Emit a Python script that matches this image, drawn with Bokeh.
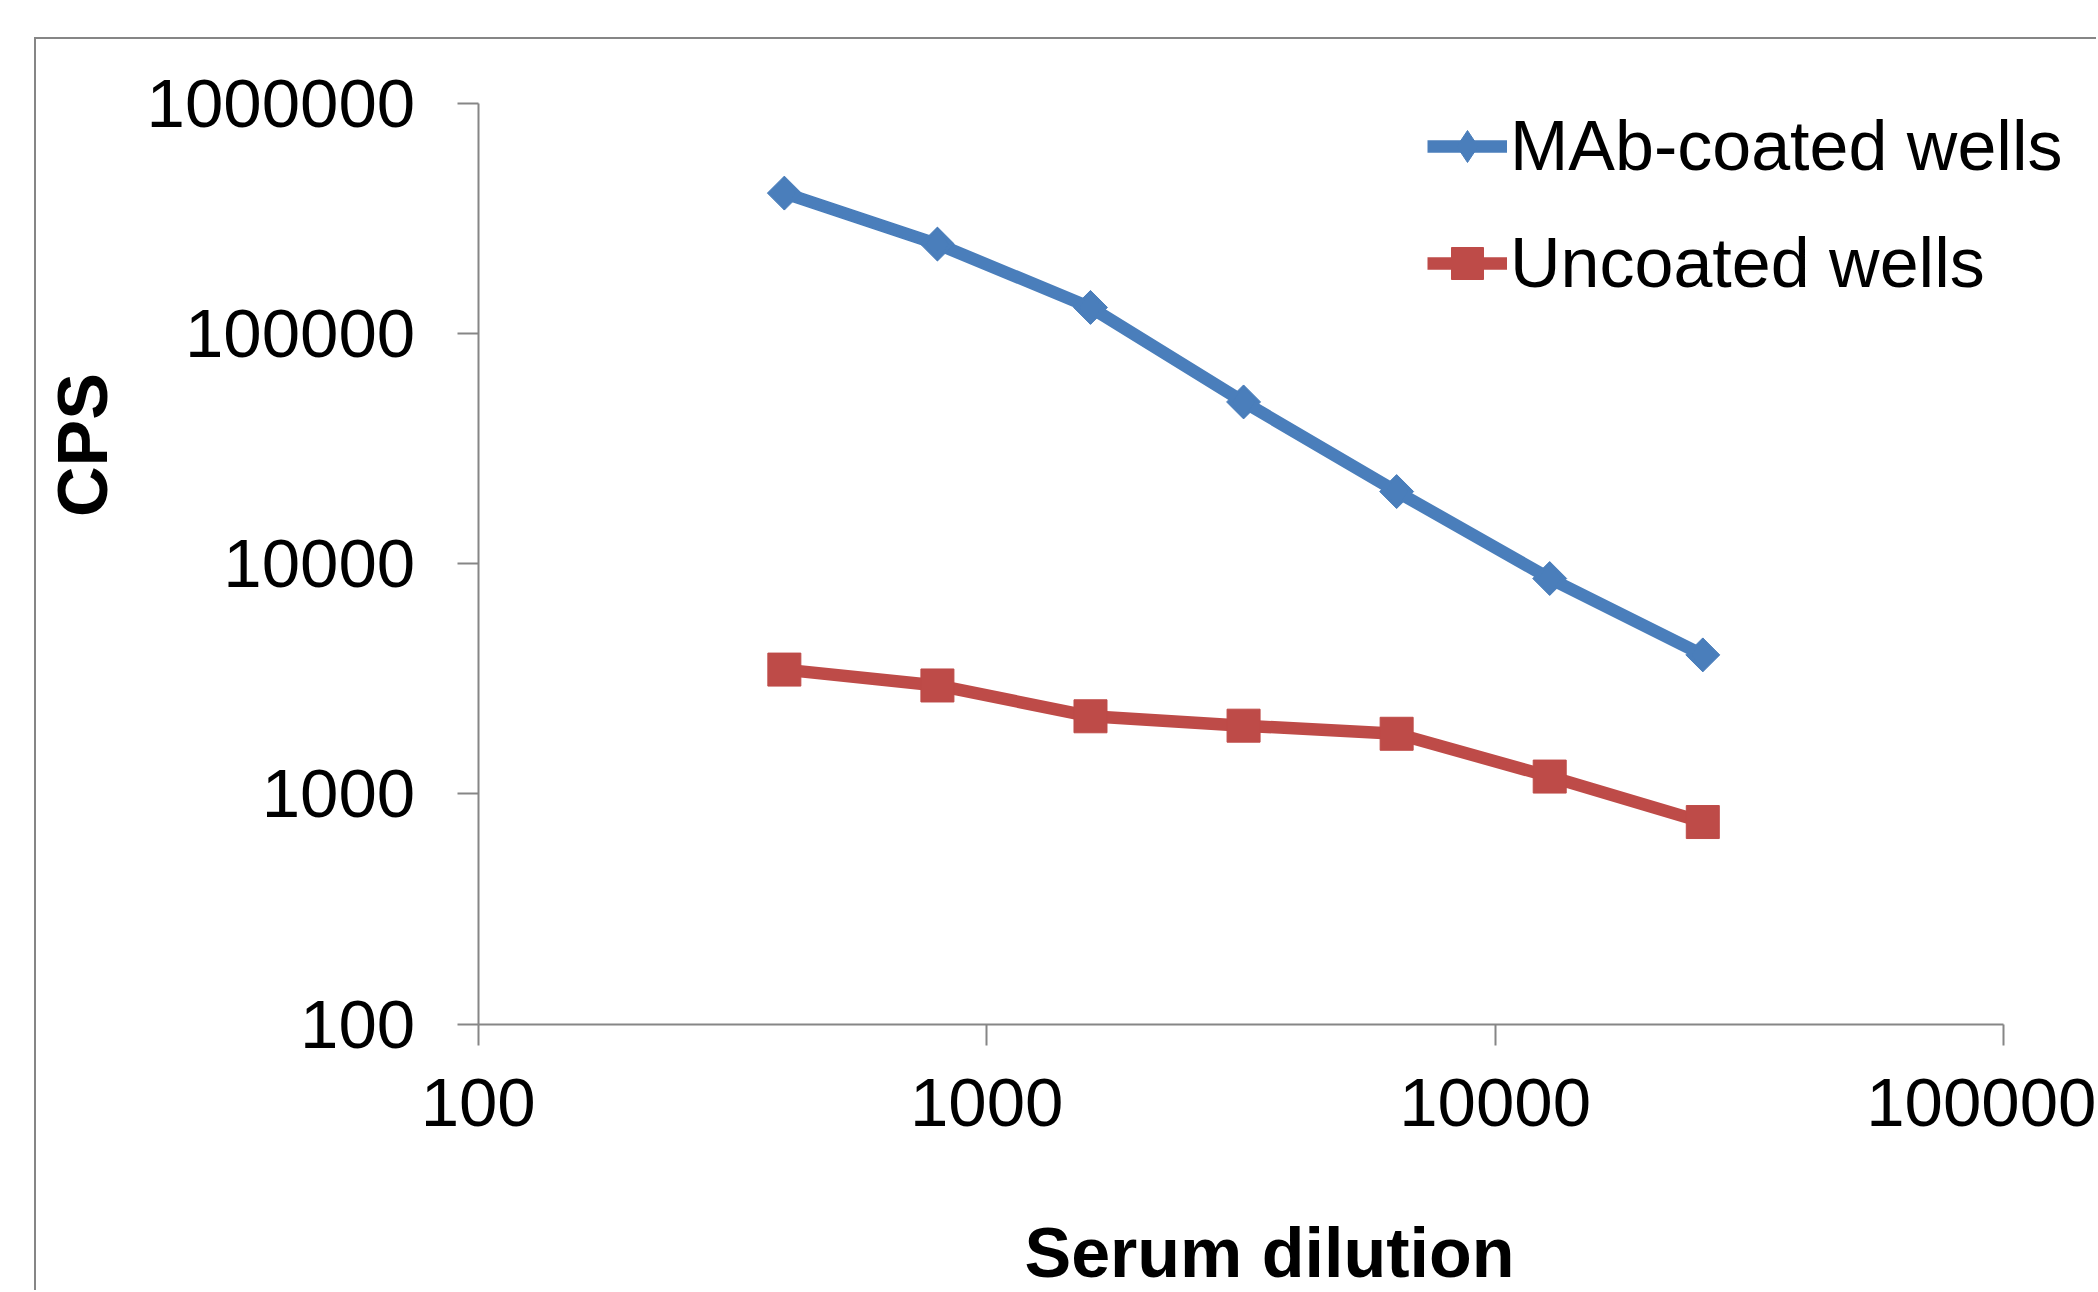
import numpy as np
from bokeh.plotting import figure
from bokeh.models import FixedTicker, Legend, LegendItem, Label
from bokeh.embed import file_html
from bokeh.resources import INLINE

# ---- data ----
dilution = [400, 800, 1600, 3200, 6400, 12800, 25600]
mab_cps = [408000, 245000, 130000, 50500, 20600, 8630, 4020]
uncoated_cps = [3470, 2960, 2175, 1980, 1826, 1190, 755]
series_names = ["MAb-coated wells", "Uncoated wells"]
x_ticks = [100, 1000, 10000, 100000]
x_tick_labels = ["100", "1000", "10000", "100000"]
y_ticks = [100, 1000, 10000, 100000, 1000000]
y_tick_labels = ["100", "1000", "10000", "100000", "1000000"]
x_title = "Serum dilution"
y_title = "CPS"

# ---- style / layout ----
FONT = "Liberation Sans"
BLUE = "#4A7EBB"
RED = "#BE4B48"
AXIS = "#868686"

W, H = 2062, 1253                       # canvas (page offset 36, 39 after css border)
AXIS_X, AXIS_Y = 441.7, 984.6           # canvas position of the axes
PX_DEC_X, PX_DEC_Y = 508.5, 230.15      # pixels per decade
lx0, ly0 = np.log10(x_ticks[0]), np.log10(y_ticks[0])
x_rng = (10 ** (lx0 - AXIS_X / PX_DEC_X), 10 ** (lx0 + (W - AXIS_X) / PX_DEC_X))
y_rng = (10 ** (ly0 - (H - AXIS_Y) / PX_DEC_Y), 10 ** (ly0 + AXIS_Y / PX_DEC_Y))

p = figure(width=W, height=H, x_axis_type="log", y_axis_type="log",
           x_range=x_rng, y_range=y_rng,
           output_backend="svg", toolbar_location=None,
           min_border_left=0, min_border_right=0,
           min_border_top=0, min_border_bottom=0)
p.styles = {"margin-left": "34px", "margin-top": "37px",
            "border-left": f"2px solid {AXIS}", "border-top": f"2px solid {AXIS}"}
p.outline_line_color = None
p.grid.visible = False
p.background_fill_color = "white"
p.border_fill_color = "white"

for ax, ticks, labels in ((p.xaxis[0], x_ticks, x_tick_labels), (p.yaxis[0], y_ticks, y_tick_labels)):
    ax.ticker = FixedTicker(ticks=ticks, minor_ticks=[])
    ax.bounds = (ticks[0], ticks[-1])
    ax.major_label_overrides = {t: l for t, l in zip(ticks, labels)}
    ax.axis_line_color = AXIS
    ax.axis_line_width = 2
    ax.major_tick_line_color = AXIS
    ax.major_tick_line_width = 2
    ax.major_tick_in = 0
    ax.major_tick_out = 21
    ax.minor_tick_line_color = None
    ax.major_label_text_font = FONT
    ax.major_label_text_font_size = "69px"
    ax.major_label_text_color = "black"
p.xaxis.fixed_location = y_ticks[0]
p.yaxis.fixed_location = x_ticks[0]
p.xaxis.major_label_standoff = 34
p.yaxis.major_label_standoff = 42

l1 = p.line(dilution, mab_cps, line_color=BLUE, line_width=12.5, line_cap="butt", line_join="round")
s1 = p.scatter(dilution, mab_cps, marker="square", angle=np.pi / 4, size=24,
               fill_color=BLUE, line_color=BLUE)
d1 = p.scatter(dilution, mab_cps, marker="diamond", size=33,
               fill_color=BLUE, line_color=BLUE)
l2 = p.line(dilution, uncoated_cps, line_color=RED, line_width=12.5, line_cap="butt", line_join="round")
s2 = p.scatter(dilution, uncoated_cps, marker="square", size=33,
               fill_color=RED, line_color=RED)

legend = Legend(items=[LegendItem(label=series_names[0], renderers=[l1, d1]),
                       LegendItem(label=series_names[1], renderers=[l2, s2])],
                location=(1391, 989), orientation="vertical",
                glyph_width=80, glyph_height=80, label_height=80,
                label_standoff=3, spacing=37, padding=0, margin=0,
                border_line_color=None, background_fill_alpha=0,
                label_text_font=FONT, label_text_font_size="70px",
                label_text_color="black")
p.add_layout(legend)

p.add_layout(Label(x=44, y=403.5, x_units="canvas", y_units="canvas", text=y_title,
                   angle=np.pi / 2, text_align="center", text_baseline="alphabetic",
                   text_font=FONT, text_font_size="70px", text_font_style="bold",
                   text_color="black"))
p.add_layout(Label(x=1231, y=1211, x_units="canvas", y_units="canvas", text=x_title,
                   text_align="center", text_baseline="alphabetic",
                   text_font=FONT, text_font_size="70px", text_font_style="bold",
                   text_color="black"))

open("out.html", "w").write(file_html(p, INLINE))
